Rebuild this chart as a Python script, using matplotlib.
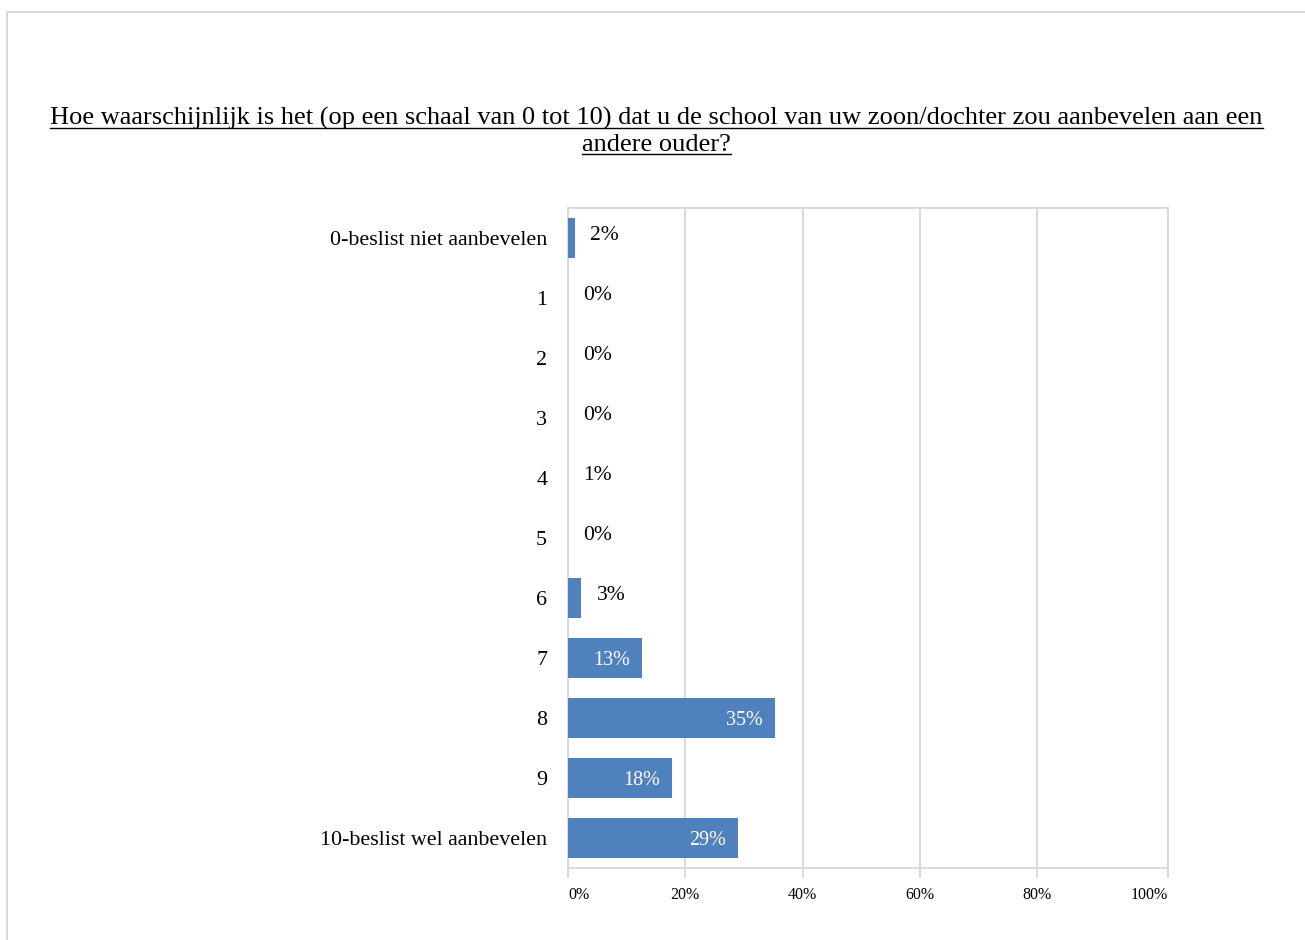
import matplotlib
matplotlib.use("Agg")
import matplotlib.pyplot as plt
from matplotlib.lines import Line2D

# survey answers, top row first
categories = [
    "0-beslist niet aanbevelen", "1", "2", "3", "4", "5",
    "6", "7", "8", "9", "10-beslist wel aanbevelen",
]
shares = [1.2, 0, 0, 0, 0, 0, 2.3, 12.6, 35.3, 17.7, 28.9]
share_labels = ["2%", "0%", "0%", "0%", "1%", "0%", "3%", "13%", "35%", "18%", "29%"]
x_tick_labels = ["0%", "20%", "40%", "60%", "80%", "100%"]
title_lines = [
    "Hoe waarschijnlijk is het (op een schaal van 0 tot 10) dat u de school van uw zoon/dochter zou aanbevelen aan een",
    "andere ouder?",
]

W, H = 1305, 940
BAR_COLOR = "#4F81BD"
GRID_COLOR = "#D9D9D9"
XMAX = 102.3
SERIF = ["Liberation Serif", "DejaVu Serif"]

plt.rcParams["font.family"] = SERIF

fig = plt.figure(figsize=(W / 100, H / 100), dpi=100)
ax = fig.add_axes([568 / W, 1 - 868 / H, 600 / W, 660 / H])

rows = list(range(len(categories)))
ax.barh(rows, shares, height=0.67, color=BAR_COLOR, zorder=3)

for r, v, lab in zip(rows, shares, share_labels):
    if v > 10:
        ax.annotate(lab, (v, r), xytext=(-8.5, -2), textcoords="offset points",
                    ha="right", va="center", color="white", fontsize=14.5, zorder=4)
    else:
        ax.annotate(lab, (v, r), xytext=(11, 2), textcoords="offset points",
                    ha="left", va="center", color="black", fontsize=15.5, zorder=4)

ax.set_xlim(0, XMAX)
ax.set_ylim(len(categories) - 0.5, -0.5)
ax.set_yticks(rows)
ax.set_yticklabels(categories, fontsize=15.8)
ax.set_xticks([0, 20, 40, 60, 80, XMAX])
ax.set_xticklabels(x_tick_labels, fontsize=11.5)
tl = ax.get_xticklabels()
tl[0].set_ha("left")
tl[-1].set_ha("right")

ax.grid(axis="x", color=GRID_COLOR, linewidth=1.4, zorder=0)
for sp in ax.spines.values():
    sp.set_color(GRID_COLOR)
    sp.set_linewidth(1.4)
ax.tick_params(axis="x", direction="out", length=7, width=1.4, color=GRID_COLOR, pad=7)
ax.tick_params(axis="y", length=0, pad=15)

# title, underlined line by line
title_texts = []
for i, line in enumerate(title_lines):
    t = fig.text(656.5 / W, 1 - (125 + 26 * i) / H, line, ha="center", va="baseline",
                 fontsize=19, color="black")
    title_texts.append(t)

fig.canvas.draw()
renderer = fig.canvas.get_renderer()
for i, t in enumerate(title_texts):
    bb = t.get_window_extent(renderer)
    y = 1 - (128 + 26 * i) / H
    fig.add_artist(Line2D([bb.x0 / W, bb.x1 / W], [y, y], color="black",
                          linewidth=1.0, transform=fig.transFigure))

# outer chart frame (only top and left edges fall inside the image)
fig.add_artist(Line2D([7 / W, 7 / W], [0, 1 - 12 / H], color=GRID_COLOR,
                      linewidth=1.4, transform=fig.transFigure))
fig.add_artist(Line2D([7 / W, 1], [1 - 12 / H, 1 - 12 / H], color=GRID_COLOR,
                      linewidth=1.4, transform=fig.transFigure))

fig.savefig("out.png", dpi=100)
